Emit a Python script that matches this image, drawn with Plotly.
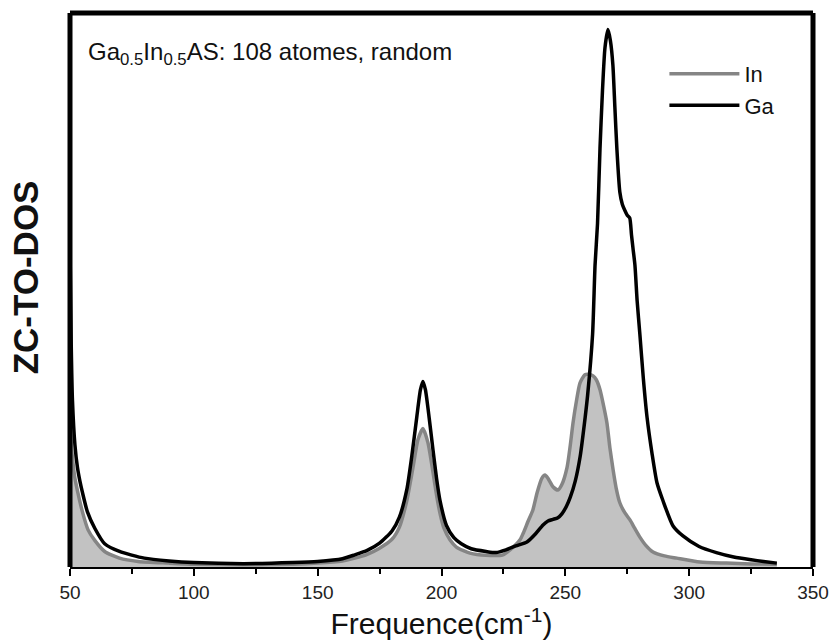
import plotly.graph_objects as go

# frequency (cm^-1) and ZC-TO-DOS (arbitrary units)
ga_freq = [50, 50.5, 51, 52, 53, 54, 55, 57, 60, 64, 70, 80, 90, 100, 120, 140, 150, 160,
           165, 170, 175, 180, 183, 186, 188, 190, 191.5, 192.5, 193.5, 195, 196.6, 198,
           199.4, 202, 205, 208, 212, 218, 222, 226, 230, 234.5, 238, 241, 243, 245, 247,
           248.6, 250.5, 252, 254, 256, 258, 259, 261, 262, 263, 264, 265, 266, 267.2,
           268.2, 269.2, 270, 270.8, 272, 273, 274, 275, 276, 276.7, 277.3, 278.1, 279,
           280.1, 281.5, 283, 285, 287, 289.4, 293.5, 297.5, 304, 311, 318, 325, 330, 335.4]
ga_dos = [58, 40, 30, 22, 18, 15.5, 13.5, 10, 7, 4.2, 2.8, 1.6, 1.1, 0.8, 0.6, 0.8, 1.0, 1.5,
          2.2, 3.0, 4.3, 6.5, 9, 14, 20, 27, 32, 33.5, 32, 27, 21, 16,
          12, 7.5, 5.3, 4.2, 3.3, 2.8, 2.6, 3.1, 3.8, 4.5, 6, 7.6, 8.3, 8.6, 8.9,
          9.6, 11, 12.6, 15.5, 20, 27, 31, 42, 54.5, 62, 75.6, 86, 93.7, 97,
          95, 90.6, 83, 75.6, 67.7, 65.5, 64.4, 63.5, 63, 60, 57.6, 54.5, 48,
          42, 34, 27, 20.5, 15.2, 12, 7.4, 5.6, 3.7, 2.6, 1.8, 1.3, 1.0, 0.7]

in_freq = [50, 50.8, 52, 53.2, 55, 57.3, 60, 64, 70, 77.5, 90, 100, 120, 140, 150, 160, 165,
           170, 175, 180, 183, 186, 188.5, 190.5, 192.5, 194.5, 196.6, 198, 199.4, 201,
           203.4, 206, 211.5, 218, 224.8, 228, 231.7, 233, 235, 236.9, 238.6, 240.5,
           241.8, 243, 245, 247, 248.5, 250.7, 252, 253.1, 254.5, 255.9, 257.9, 259.5,
           261.2, 262.5, 264, 265.5, 266.8, 268, 269.3, 270.5, 272, 274, 276.1, 278,
           280.1, 282.5, 285.4, 290, 295, 304.4, 315, 325, 335.4]
in_dos = [25.6, 20.6, 16, 13.4, 10, 6.7, 4.8, 2.8, 1.6, 1.0, 0.7, 0.5, 0.4, 0.5, 0.7, 1.1, 1.6,
          2.3, 3.4, 5.0, 7.2, 12, 18, 23, 25, 22.5, 17, 13, 9.7, 7,
          4.9, 3.6, 2.5, 2.1, 2.2, 3.2, 4.9, 6.1, 8.3, 10.3, 13.4, 16,
          16.6, 16, 14.5, 13.9, 14.8, 18, 22, 26, 30, 33.2, 34.7, 34.8,
          34.5, 33.8, 32, 29, 26, 21.5, 17.5, 14.3, 11.6, 9.8, 8.5, 7,
          5.4, 3.9, 2.7, 2.0, 1.6, 0.9, 0.7, 0.55, 0.5]

x_ticks = [50, 100, 150, 200, 250, 300, 350]
x_minor = [75, 125, 175, 225, 275, 325]

FONT = "Liberation Sans, Arial, Helvetica, sans-serif"
LINE = dict(width=3.5, shape="spline", smoothing=0.6)

fig = go.Figure()

# grey area under the In curve (no legend entry), then the two lines
fig.add_trace(go.Scatter(x=in_freq, y=in_dos, mode="lines", showlegend=False, hoverinfo="skip",
                         line=dict(color="rgba(0,0,0,0)", width=0, shape="spline", smoothing=0.6),
                         fill="tozeroy", fillcolor="#c2c2c2"))
fig.add_trace(go.Scatter(x=in_freq, y=in_dos, name="In", mode="lines",
                         line=dict(color="#858585", **LINE)))
fig.add_trace(go.Scatter(x=ga_freq, y=ga_dos, name="Ga", mode="lines",
                         line=dict(color="black", **LINE)))

# frame: thick top / left / right, thin bottom axis line
for x0, y0, x1, y1 in [(0, 1, 1, 1), (0, 0, 0, 1), (1, 0, 1, 1)]:
    fig.add_shape(type="line", xref="paper", yref="paper", x0=x0, y0=y0, x1=x1, y1=y1,
                  line=dict(color="black", width=5))

fig.add_annotation(text="Ga<sub>0.5</sub>In<sub>0.5</sub>AS: 108 atomes, random",
                   xref="paper", yref="paper", x=0.022, y=0.958, xanchor="left", yanchor="top",
                   showarrow=False, font=dict(family=FONT, size=24, color="#111"))

# y title placed by hand, a little above the middle as in the original
fig.add_annotation(text="<b>ZC-TO-DOS</b>", textangle=-90,
                   xref="paper", yref="paper", x=0, y=0.522, xanchor="right", yanchor="middle",
                   xshift=-23, showarrow=False, font=dict(family=FONT, size=35, color="#111"))

fig.update_layout(
    width=832, height=642,
    margin=dict(l=70, r=19, t=13, b=75),
    paper_bgcolor="white", plot_bgcolor="white",
    font=dict(family=FONT, color="#111"),
    showlegend=True,
    legend=dict(x=0.8, y=0.928, xanchor="left", yanchor="top", bgcolor="rgba(0,0,0,0)",
                font=dict(family=FONT, size=22, color="#111"), itemwidth=70,
                tracegroupgap=0),
    xaxis=dict(range=[50, 350], tickvals=x_ticks, ticks="outside", ticklen=7, tickwidth=2,
               tickcolor="black", showline=True, linecolor="black", linewidth=2,
               showgrid=False, zeroline=False, automargin=False,
               tickfont=dict(family=FONT, size=19, color="#222"),
               minor=dict(tickvals=x_minor, ticks="outside",
                          ticklen=5, tickwidth=2, tickcolor="black"),
               title=dict(text="Frequence(cm<sup>-1</sup>)",
                          font=dict(family=FONT, size=30, color="#111"), standoff=3)),
    yaxis=dict(range=[0, 100], showticklabels=False, ticks="", showgrid=False,
               zeroline=False, showline=False, automargin=False),
)

# the page's default body margin would push the figure off the window
fig.write_html("out.html", config={"displayModeBar": False},
               post_script="document.body.style.margin='0';")
